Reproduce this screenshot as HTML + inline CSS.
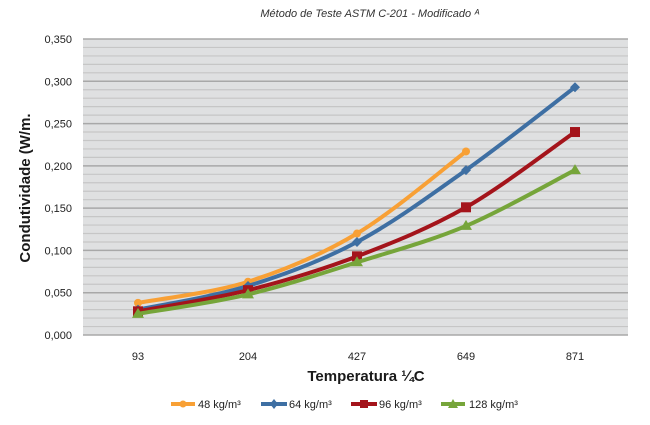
<!DOCTYPE html>
<html><head><meta charset="utf-8"><style>
html,body{margin:0;padding:0;background:#fff;}
svg{display:block;font-family:"Liberation Sans",sans-serif;}
</style></head><body>
<svg id="s" width="650" height="425" viewBox="0 0 650 425" xmlns="http://www.w3.org/2000/svg">
<rect x="0" y="0" width="650" height="425" fill="#fff"/>
<text x="370" y="17" font-size="11" font-style="italic" text-anchor="middle" fill="#333">Método de Teste ASTM C-201 - Modificado ᴬ</text>
<rect x="83" y="39" width="545" height="296" fill="#dfe0e1"/>
<g id="grid"></g>
<g id="ylab" font-size="11" fill="#222" text-anchor="end"></g>
<g font-size="11" fill="#222" text-anchor="middle">
<text x="138" y="360">93</text><text x="248" y="360">204</text><text x="357" y="360">427</text><text x="466" y="360">649</text><text x="575" y="360">871</text>
</g>
<text transform="translate(30,188) rotate(-90)" font-size="15" font-weight="bold" text-anchor="middle" fill="#1a1a1a">Condutividade (W/m.</text>
<text x="366" y="381" font-size="15" font-weight="bold" text-anchor="middle" fill="#1a1a1a">Temperatura ¼C</text>
<g id="series"></g>
<g font-size="11" fill="#222">
<line x1="171" y1="404" x2="195" y2="404" stroke="#f8a035" stroke-width="4"/><circle cx="183" cy="404" r="3.5" fill="#f8a035"/><text x="198" y="408">48 kg/m³</text>
<line x1="261" y1="404" x2="287" y2="404" stroke="#3e6fa3" stroke-width="4"/><path d="M274 399 l4 5 -4 5 -4 -5z" fill="#3e6fa3"/><text x="289" y="408">64 kg/m³</text>
<line x1="351" y1="404" x2="377" y2="404" stroke="#a4141b" stroke-width="4"/><rect x="360" y="400" width="8" height="8" fill="#a4141b"/><text x="379" y="408">96 kg/m³</text>
<line x1="441" y1="404" x2="465" y2="404" stroke="#76a53a" stroke-width="4"/><path d="M453 399 l5 9 -10 0z" fill="#76a53a"/><text x="469" y="408">128 kg/m³</text>
</g>
</svg>
<script>
var ns="http://www.w3.org/2000/svg";
function el(t,a,p){var e=document.createElementNS(ns,t);for(var k in a)e.setAttribute(k,a[k]);p.appendChild(e);return e;}
var g=document.getElementById('grid'),yl=document.getElementById('ylab');
function Y(v){return 335-v*845.7;}
for(var i=0;i<=35;i++){var y=Y(i*0.01);var major=i%5==0;
el('line',{x1:83,x2:628,y1:y,y2:y,stroke:major?'#a8a8a8':'#c6c6c6','stroke-width':major?1.5:1.2},g);
if(major){var t=el('text',{x:72,y:y+4},yl);t.textContent=(i/100).toFixed(3).replace('.',',');}}
var X=[138,248,357,466,575];
var S=[
{c:'#f8a035',m:'o',d:[0.038,0.063,0.12,0.217]},
{c:'#3e6fa3',m:'d',d:[0.030,0.058,0.11,0.195,0.293]},
{c:'#a4141b',m:'s',d:[0.028,0.053,0.093,0.151,0.240]},
{c:'#76a53a',m:'t',d:[0.025,0.048,0.086,0.129,0.195]}];
var sg=document.getElementById('series');
S.forEach(function(s){
var p=s.d.map(function(v,i){return [X[i],Y(v)];});
var d='M'+p[0][0]+' '+p[0][1];
for(var i=0;i<p.length-1;i++){var p0=p[i-1]||p[i],p1=p[i],p2=p[i+1],p3=p[i+2]||p2;
var c1=[p1[0]+(p2[0]-p0[0])/6,p1[1]+(p2[1]-p0[1])/6],c2=[p2[0]-(p3[0]-p1[0])/6,p2[1]-(p3[1]-p1[1])/6];
d+=' C'+c1+' '+c2+' '+p2;}
el('path',{d:d,fill:'none',stroke:s.c,'stroke-width':4,'stroke-linejoin':'round'},sg);
p.forEach(function(q){var x=q[0],y=q[1];
if(s.m=='o')el('circle',{cx:x,cy:y,r:4,fill:s.c},sg);
else if(s.m=='d')el('path',{d:'M'+x+' '+(y-5)+' l5 5 -5 5 -5 -5z',fill:s.c},sg);
else if(s.m=='s')el('rect',{x:x-5,y:y-5,width:10,height:10,fill:s.c},sg);
else el('path',{d:'M'+x+' '+(y-6)+' l6 10 -12 0z',fill:s.c},sg);});
});
</script>
</body></html>
